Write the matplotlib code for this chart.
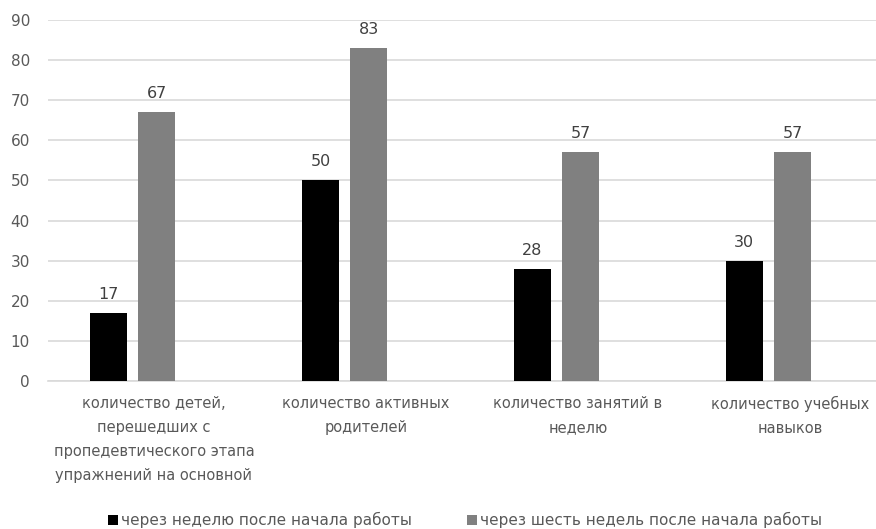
import matplotlib
matplotlib.use("Agg")
import matplotlib.pyplot as plt
import numpy as np

categories = [
    "количество детей,\nперешедших с\nпропедевтического этапа\nупражнений на основной",
    "количество активных\nродителей",
    "количество занятий в\nнеделю",
    "количество учебных\nнавыков",
]
series_names = [
    "через неделю после начала работы",
    "через шесть недель после начала работы",
]
week_one = [17, 50, 28, 30]
week_six = [67, 83, 57, 57]

plt.rcParams["font.family"] = ["DejaVu Sans"]
text_color = "#595959"
grid_color = "#d9d9d9"

fig = plt.figure(figsize=(8.76, 5.29), dpi=100)
ax = fig.add_axes([48 / 876, 148 / 529, 828 / 876, 361 / 529])

x = np.arange(len(categories))
width = 0.175
offsets = [-0.215, 0.012]
colors = ["#000000", "#808080"]

for vals, off, col, name in zip([week_one, week_six], offsets, colors, series_names):
    bars = ax.bar(x + off, vals, width=width, color=col, label=name, zorder=3)
    for b, v in zip(bars, vals):
        ax.annotate(str(v), (b.get_x() + b.get_width() / 2, v),
                    xytext=(0, 8), textcoords="offset points",
                    ha="center", va="bottom", fontsize=11.5, color="#404040")

ax.set_ylim(0, 90)
ax.set_yticks(range(0, 91, 10))
ax.set_xlim(-0.5, 3.406)
ax.set_xticks(x)
ax.set_xticklabels(categories, fontsize=10.5, color=text_color, linespacing=1.75)
ax.tick_params(axis="y", length=0, pad=13, labelsize=11, labelcolor=text_color)
ax.tick_params(axis="x", length=0, pad=11)
ax.yaxis.grid(True, color=grid_color, linewidth=1.2, zorder=0)
for s in ["top", "right", "left"]:
    ax.spines[s].set_visible(False)
ax.spines["bottom"].set_color(grid_color)
ax.spines["bottom"].set_linewidth(1.2)

fig.legend(loc="center", bbox_to_anchor=(465 / 876, 1 - 520 / 529), ncol=2,
           frameon=False, fontsize=11, labelcolor=text_color,
           handlelength=0.65, handleheight=0.65, handletextpad=0.2,
           columnspacing=3.6)

fig.savefig("out.png", dpi=100)
